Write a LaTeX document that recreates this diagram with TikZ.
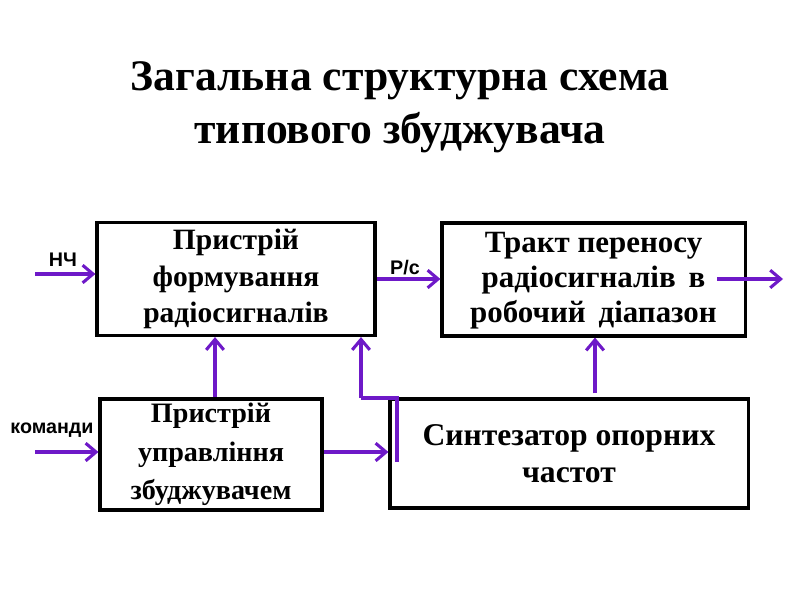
\documentclass[tikz,border=0pt]{standalone}
\usepackage{fontspec}
\setmainfont{Liberation Serif}
\newfontfamily\lblfont{Liberation Sans}
\usetikzlibrary{arrows.meta}
\definecolor{arr}{RGB}{110,25,200}
\begin{document}
\begin{tikzpicture}[x=0.025cm,y=-0.025cm,
  box/.style={draw=black,line width=2.2pt,fill=white,align=center,inner sep=0pt,
    font=\fontsize{21pt}{26pt}\selectfont\bfseries},
  conn/.style={draw=arr,line width=2.2pt,-{Straight Barb[length=2.6mm,width=4.4mm,line width=2.2pt]}},
  wire/.style={draw=arr,line width=2.2pt},
  lbl/.style={font=\fontsize{14pt}{15pt}\selectfont\lblfont\bfseries,inner sep=0pt}]
\useasboundingbox (0,0) rectangle (800,600);
\node[font=\fontsize{31pt}{38pt}\selectfont\bfseries,align=center] (title) at (400,107)
  {Загальна структурна схема\\типового збуджувача};
\node[box,minimum width=6.95cm,minimum height=2.825cm] (form) at (236,279)
  {Пристрій\\формування\\радіосигналів};
\node[box,minimum width=7.575cm,minimum height=2.825cm,
  font=\fontsize{22pt}{25pt}\selectfont\bfseries] (trakt) at (593.5,279.5)
  {\rule{0pt}{16pt}Тракт переносу\\радіосигналів\,\ в\\робочий\, діапазон};
\node[box,minimum width=5.55cm,minimum height=2.775cm,
  font=\fontsize{20pt}{27.5pt}\selectfont\bfseries] (upr) at (211,454.5)
  {Пристрій\\управління\\збуджувачем};
\node[box,minimum width=8.95cm,minimum height=2.725cm,
  font=\fontsize{22.5pt}{26pt}\selectfont\bfseries] (synth) at (569,453.5)
  {Синтезатор опорних\\частот};
% free ends
\coordinate (nchin) at (35,274);
\coordinate (cmdin) at (35,452);
\coordinate (outs) at (717,279);
\coordinate (oute) at (783,279);
\coordinate (bendA) at (397,462);
\coordinate (bendB) at (397,398);
\coordinate (bendC) at (361,398);
\node[lbl] (nch) at (63,260) {НЧ};
\node[lbl] (rs) at (405,268) {Р/с};
\node[lbl] (cmd) at (52,430) {команди};
\draw[conn] (nchin) -- (nchin -| form.west);
\draw[conn] (form.east |- 0,279) -- (trakt.west |- 0,279);
\draw[conn] (outs) -- (oute);
\draw[conn] (cmdin) -- (cmdin -| upr.west);
\draw[conn] (upr.east |- 0,452) -- (synth.west |- 0,452);
\draw[conn] (upr.north -| 215,0) -- (form.south -| 215,0);
\draw[conn] (synth.north -| 595,0) ++(0,-4) -- (trakt.south -| 595,0);
\draw[wire] (bendA) -- (bendB) -- (bendC);
\draw[conn] (bendC) -- (form.south -| bendC);
\end{tikzpicture}
\end{document}
